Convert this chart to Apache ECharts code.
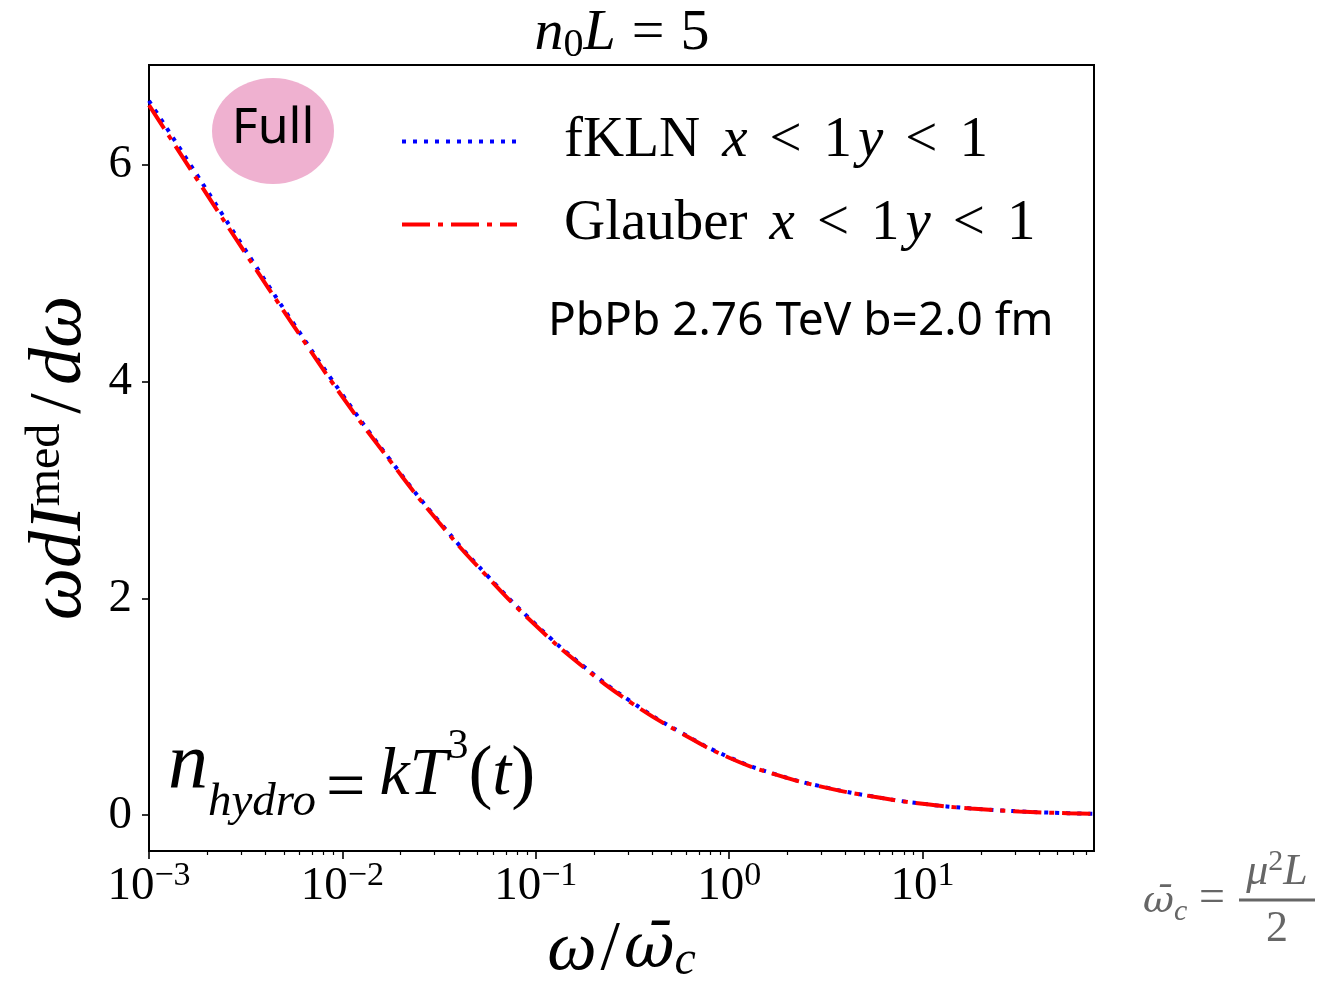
<!DOCTYPE html>
<html><head><meta charset="utf-8">
<script src="https://cdn.jsdelivr.net/npm/echarts@6/dist/echarts.min.js"></script>
<style>html,body{margin:0;padding:0;background:#fff}#c{width:1331px;height:991px}</style>
</head><body><div id="c"></div>
<script>
// ---- data ----
const omegaRatio = [0.001, 0.00178, 0.00316, 0.00562, 0.01, 0.0178, 0.0316, 0.0562, 0.1, 0.178, 0.316, 0.562, 1, 1.78, 3.16, 5.62, 10, 17.8, 31.6, 56.2, 77];
const fklnValues = [6.59, 5.90, 5.21, 4.53, 3.88, 3.27, 2.71, 2.21, 1.76, 1.37, 1.04, 0.765, 0.535, 0.372, 0.257, 0.171, 0.106, 0.063, 0.036, 0.019, 0.013];
const glauberValues = [6.55, 5.86, 5.18, 4.51, 3.86, 3.26, 2.70, 2.20, 1.75, 1.36, 1.03, 0.76, 0.53, 0.37, 0.255, 0.17, 0.105, 0.062, 0.035, 0.018, 0.012];
const seriesNames = ['fKLN x < 1 y < 1', 'Glauber x < 1 y < 1'];
const xMajorTicks = [0.001, 0.01, 0.1, 1, 10];
const xMinorMultipliers = [2, 3, 4, 5, 6, 7, 8, 9];
const yTicks = [0, 2, 4, 6];
const xMin = 0.001, xMax = 77, yMin = -0.33, yMax = 6.92;

const xMinorTicks = [];
xMajorTicks.forEach(d => xMinorMultipliers.forEach(m => { if (m * d <= xMax) xMinorTicks.push(m * d); }));

const SERIF = '"Liberation Serif", "DejaVu Serif", serif';
const DSERIF = '"DejaVu Serif", serif';
const SANS = '"Noto Sans", "Open Sans", sans-serif';

function legendRich(name) {
  const parts = name.split(' ');
  let s = '';
  parts.forEach((p, i) => {
    if (i > 0) s += (parts[i - 1] === '1' && p === 'y') ? '{g0|}' : '{g1|}';
    s += (p === 'x' || p === 'y') ? '{i|' + p + '}' : '{n|' + p + '}';
  });
  return '{sp|}' + s;
}

const chart = echarts.init(document.getElementById('c'));
const tickAxisBase = {
  type: 'value', gridIndex: 0, position: 'bottom',
  min: Math.log10(xMin), max: Math.log10(xMax),
  axisLine: { show: false, onZero: false }, axisLabel: { show: false }, splitLine: { show: false }
};

chart.setOption({
  animation: false,
  backgroundColor: '#fff',
  grid: { left: 149, top: 65, width: 945, height: 786, show: true, borderColor: '#000', borderWidth: 2, backgroundColor: 'transparent' },
  xAxis: [
    {
      type: 'log', logBase: 10, min: xMin, max: xMax, position: 'bottom',
      axisLine: { show: true, onZero: false, lineStyle: { color: '#000', width: 2 } },
      axisTick: { show: false }, splitLine: { show: false }, minorTick: { show: false },
      axisLabel: {
        margin: 8, color: '#000',
        formatter: v => {
          const e = Math.log10(v);
          if (Math.abs(e - Math.round(e)) > 1e-6) return '';
          const r = Math.round(e);
          return '{b|10}{s|' + (r < 0 ? '\u2212' + (-r) : r) + '}';
        },
        rich: {
          b: { fontFamily: SERIF, fontSize: 47, lineHeight: 56, color: '#000' },
          s: { fontFamily: SERIF, fontSize: 34, lineHeight: 28, verticalAlign: 'top', color: '#000' }
        }
      },
      name: '{i|\u03c9}{n|/}{w|\u03c9\u0304}{sub|c}',
      nameLocation: 'middle', nameGap: 64,
      nameTextStyle: {
        rich: {
          i: { fontFamily: SERIF, fontStyle: 'italic', fontSize: 70, lineHeight: 70, color: '#000' },
          w: { fontFamily: DSERIF, fontStyle: 'italic', fontSize: 62, lineHeight: 70, color: '#000' },
          n: { fontFamily: SERIF, fontSize: 70, lineHeight: 70, padding: [0, 4, 0, 4], color: '#000' },
          sub: { fontFamily: SERIF, fontStyle: 'italic', fontSize: 48, lineHeight: 34, verticalAlign: 'bottom', color: '#000' }
        }
      }
    },
    Object.assign({}, tickAxisBase, { axisTick: { show: true, length: 8, lineStyle: { color: '#000', width: 1.6 }, customValues: xMajorTicks.map(Math.log10) } }),
    Object.assign({}, tickAxisBase, { axisTick: { show: true, length: 4, lineStyle: { color: '#000', width: 1.2 }, customValues: xMinorTicks.map(Math.log10) } })
  ],
  yAxis: {
    type: 'value', min: yMin, max: yMax,
    axisLine: { show: true, onZero: false, lineStyle: { color: '#000', width: 2 } },
    axisTick: { show: true, length: 7, lineStyle: { color: '#000', width: 1.6 }, customValues: yTicks },
    axisLabel: { customValues: yTicks, margin: 17, color: '#000', fontFamily: SERIF, fontSize: 47 },
    splitLine: { show: false },
    name: '{i|\u03c9dI}{sup|med}{n|/}{i|d\u03c9}',
    nameLocation: 'middle', nameRotate: 90, nameGap: 50,
    nameTextStyle: {
      rich: {
        i: { fontFamily: SERIF, fontStyle: 'italic', fontSize: 74, lineHeight: 76, color: '#000' },
        n: { fontFamily: SERIF, fontSize: 74, lineHeight: 76, padding: [0, 8, 0, 10], color: '#000' },
        sup: { fontFamily: SERIF, fontSize: 48, lineHeight: 36, verticalAlign: 'top', color: '#000' }
      }
    }
  },
  legend: {
    orient: 'vertical', left: 395, top: 108, itemWidth: 115, itemHeight: 2, itemGap: 26,
    selectedMode: false,
    data: seriesNames,
    lineStyle: { width: 4 },
    itemStyle: { opacity: 0 },
    formatter: legendRich,
    textStyle: {
      color: '#000',
      rich: {
        sp: { width: 42, height: 10 },
        g1: { width: 22, height: 10 },
        g0: { width: 6, height: 10 },
        n: { fontFamily: SERIF, fontSize: 57, lineHeight: 60, color: '#000' },
        i: { fontFamily: SERIF, fontStyle: 'italic', fontSize: 57, lineHeight: 60, color: '#000' }
      }
    }
  },
  series: [
    {
      name: seriesNames[0], type: 'line', xAxisIndex: 0, smooth: true, symbol: 'none', z: 2,
      data: omegaRatio.map((x, i) => [x, fklnValues[i]]),
      lineStyle: { color: '#0000ff', width: 4, type: [4, 7], cap: 'butt' },
      itemStyle: { color: '#0000ff' }
    },
    {
      name: seriesNames[1], type: 'line', xAxisIndex: 0, smooth: true, symbol: 'none', z: 3,
      data: omegaRatio.map((x, i) => [x, glauberValues[i]]),
      lineStyle: { color: '#ff0000', width: 4, type: [28, 8, 5, 8], cap: 'butt' },
      itemStyle: { color: '#ff0000' }
    }
  ],
  graphic: [
    { type: 'ellipse', shape: { cx: 273, cy: 131, rx: 61, ry: 53 }, style: { fill: '#efb1d0' }, z: 10 },
    { type: 'text', x: 273, y: 129, z: 11, style: { text: 'Full', font: '50px ' + SANS, fill: '#000', align: 'center', verticalAlign: 'middle' } },
    { type: 'text', x: 548, y: 322, z: 11, style: { text: 'PbPb 2.76 TeV b=2.0 fm', font: '46px ' + SANS, fill: '#000', align: 'left', verticalAlign: 'middle' } },
    {
      type: 'text', x: 622, y: 34, z: 11,
      style: {
        text: '{i|n}{sub|0}{i|L}{n|=}{d|5}', align: 'center', verticalAlign: 'middle',
        rich: {
          i: { fontFamily: SERIF, fontStyle: 'italic', fontSize: 58, lineHeight: 62, fill: '#000' },
          n: { fontFamily: SERIF, fontSize: 58, lineHeight: 62, padding: [0, 16, 0, 16], fill: '#000' },
          d: { fontFamily: SERIF, fontSize: 58, lineHeight: 62, fill: '#000' },
          sub: { fontFamily: SERIF, fontSize: 40, lineHeight: 26, verticalAlign: 'bottom', fill: '#000' }
        }
      }
    },
    {
      type: 'text', x: 168, y: 776, z: 11,
      style: {
        text: '{nn|n}{sub|hydro}{e|=}{i|kT}{sup|3}{p|(}{i|t}{p|)}', align: 'left', verticalAlign: 'middle',
        rich: {
          nn: { fontFamily: SERIF, fontStyle: 'italic', fontSize: 80, lineHeight: 88, verticalAlign: 'top', fill: '#000' },
          sub: { fontFamily: SERIF, fontStyle: 'italic', fontSize: 47, lineHeight: 74, verticalAlign: 'bottom', fill: '#000' },
          e: { fontFamily: SERIF, fontSize: 70, lineHeight: 84, verticalAlign: 'bottom', padding: [0, 14, 0, 10], fill: '#000' },
          i: { fontFamily: SERIF, fontStyle: 'italic', fontSize: 68, lineHeight: 100, fill: '#000' },
          sup: { fontFamily: SERIF, fontSize: 42, lineHeight: 60, verticalAlign: 'top', fill: '#000' },
          p: { fontFamily: SERIF, fontSize: 72, lineHeight: 100, fill: '#000' }
        }
      }
    },
    {
      type: 'text', x: 1143, y: 902, z: 11,
      style: {
        text: '{i|\u03c9\u0304}{sub|c}', align: 'left', verticalAlign: 'middle',
        rich: {
          i: { fontFamily: DSERIF, fontStyle: 'italic', fontSize: 38, lineHeight: 50, fill: '#666' },
          sub: { fontFamily: SERIF, fontStyle: 'italic', fontSize: 30, lineHeight: 22, verticalAlign: 'bottom', fill: '#666' }
        }
      }
    },
    { type: 'text', x: 1212, y: 899, z: 11, style: { text: '=', font: '46px ' + SERIF, fill: '#666', align: 'center', verticalAlign: 'middle' } },
    {
      type: 'text', x: 1277, y: 872, z: 11,
      style: {
        text: '{i|\u03bc}{sup|2}{i|L}', align: 'center', verticalAlign: 'middle',
        rich: {
          i: { fontFamily: SERIF, fontStyle: 'italic', fontSize: 44, lineHeight: 50, fill: '#666' },
          sup: { fontFamily: SERIF, fontSize: 30, lineHeight: 24, verticalAlign: 'top', fill: '#666' }
        }
      }
    },
    { type: 'line', shape: { x1: 1239, y1: 900, x2: 1315, y2: 900 }, style: { stroke: '#666', lineWidth: 3 }, z: 11 },
    { type: 'text', x: 1277, y: 929, z: 11, style: { text: '2', font: '44px ' + SERIF, fill: '#666', align: 'center', verticalAlign: 'middle' } }
  ]
});
</script>
</body></html>
